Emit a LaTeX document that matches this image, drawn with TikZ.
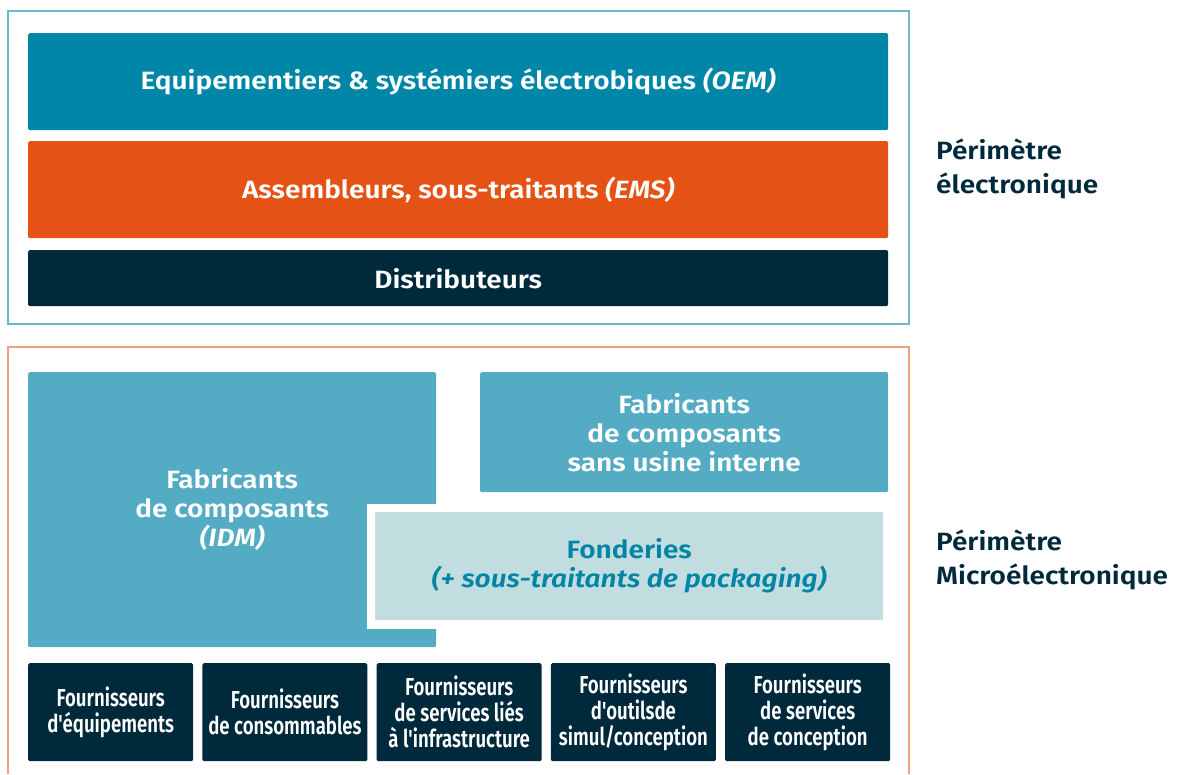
\documentclass[tikz,border=0pt]{standalone}
\usepackage{fontspec}
\setmainfont{Fira Sans}[BoldFont={Fira Sans SemiBold},BoldItalicFont={Fira Sans SemiBold Italic},FakeStretch=1.12]
\newfontfamily\condfont{Fira Sans}[BoldFont={Fira Sans SemiBold},FakeStretch=0.76]
\definecolor{oemblue}{HTML}{0087A8}
\definecolor{emsorange}{HTML}{E55215}
\definecolor{navy}{HTML}{002A3C}
\definecolor{idmblue}{HTML}{54ACC4}
\definecolor{foundrybg}{HTML}{C2DDE0}
\definecolor{foundrytext}{HTML}{0085A5}
\definecolor{frameblue}{HTML}{6BB8CE}
\definecolor{framesalmon}{HTML}{EFA080}

\begin{document}
\begin{tikzpicture}[x=1pt,y=-1pt,
	box/.style={anchor=north west,inner sep=0pt,rounded corners=1.5pt,text=white,align=center,font=\bfseries\fontsize{25}{29}\selectfont},
	supplier/.style={box,fill=navy,minimum width=165pt,minimum height=98pt,font=\condfont\bfseries\fontsize{24.5}{26}\selectfont},
	perimeter/.style={anchor=west,inner sep=0pt,align=left,text=navy,font=\bfseries\fontsize{25}{34}\selectfont}]
				\useasboundingbox (0,0) rectangle (1183,774);
				% the two perimeters
				\draw[frameblue,line width=1.2pt] (8,11) rectangle (909,324);
				\draw[framesalmon,line width=1.2pt] (8,774)--(8,347)--(909,347)--(909,774);
				\node[box,fill=oemblue,minimum width=860pt,minimum height=97pt] (oem) at (28,33) {Equipementiers \& systémiers électrobiques \textit{(OEM)}};
				\node[box,fill=emsorange,minimum width=860pt,minimum height=97pt] (ems) at (28,141) {Assembleurs, sous-traitants \textit{(EMS)}};
				\node[box,fill=navy,minimum width=860pt,minimum height=56pt] (distrib) at (28,250) {Distributeurs};
				\node[box,fill=idmblue,minimum width=408pt,minimum height=275pt] (idm) at (28,372) {Fabricants\\de composants\\\textit{(IDM)}};
				\node[box,fill=idmblue,minimum width=408pt,minimum height=120pt] (fabless) at (480,372) {Fabricants\\de composants\\sans usine interne};
				\node[box,rounded corners=0pt,fill=foundrybg,text=foundrytext,minimum width=508pt,minimum height=108pt,preaction={draw=white,line width=17pt}] (fonderies) at (375,512) {Fonderies\\\textit{(+ sous-traitants de packaging)}};
				\foreach \txt [count=\n] in {{Fournisseurs\\d'équipements},{Fournisseurs\\de consommables},{Fournisseurs\\de services liés\\à l'infrastructure},{Fournisseurs\\d'outilsde\\simul/conception},{Fournisseurs\\de services\\de conception}}{\node[supplier] (fourn\n) at ({28+174.25*(\n-1)},663) {\txt};}
				\node[perimeter] (perelec) at (936,169) {Périmètre\\électronique};
				\node[perimeter] (permicro) at (936,560) {Périmètre\\Microélectronique};
			\end{tikzpicture}
\end{document}
